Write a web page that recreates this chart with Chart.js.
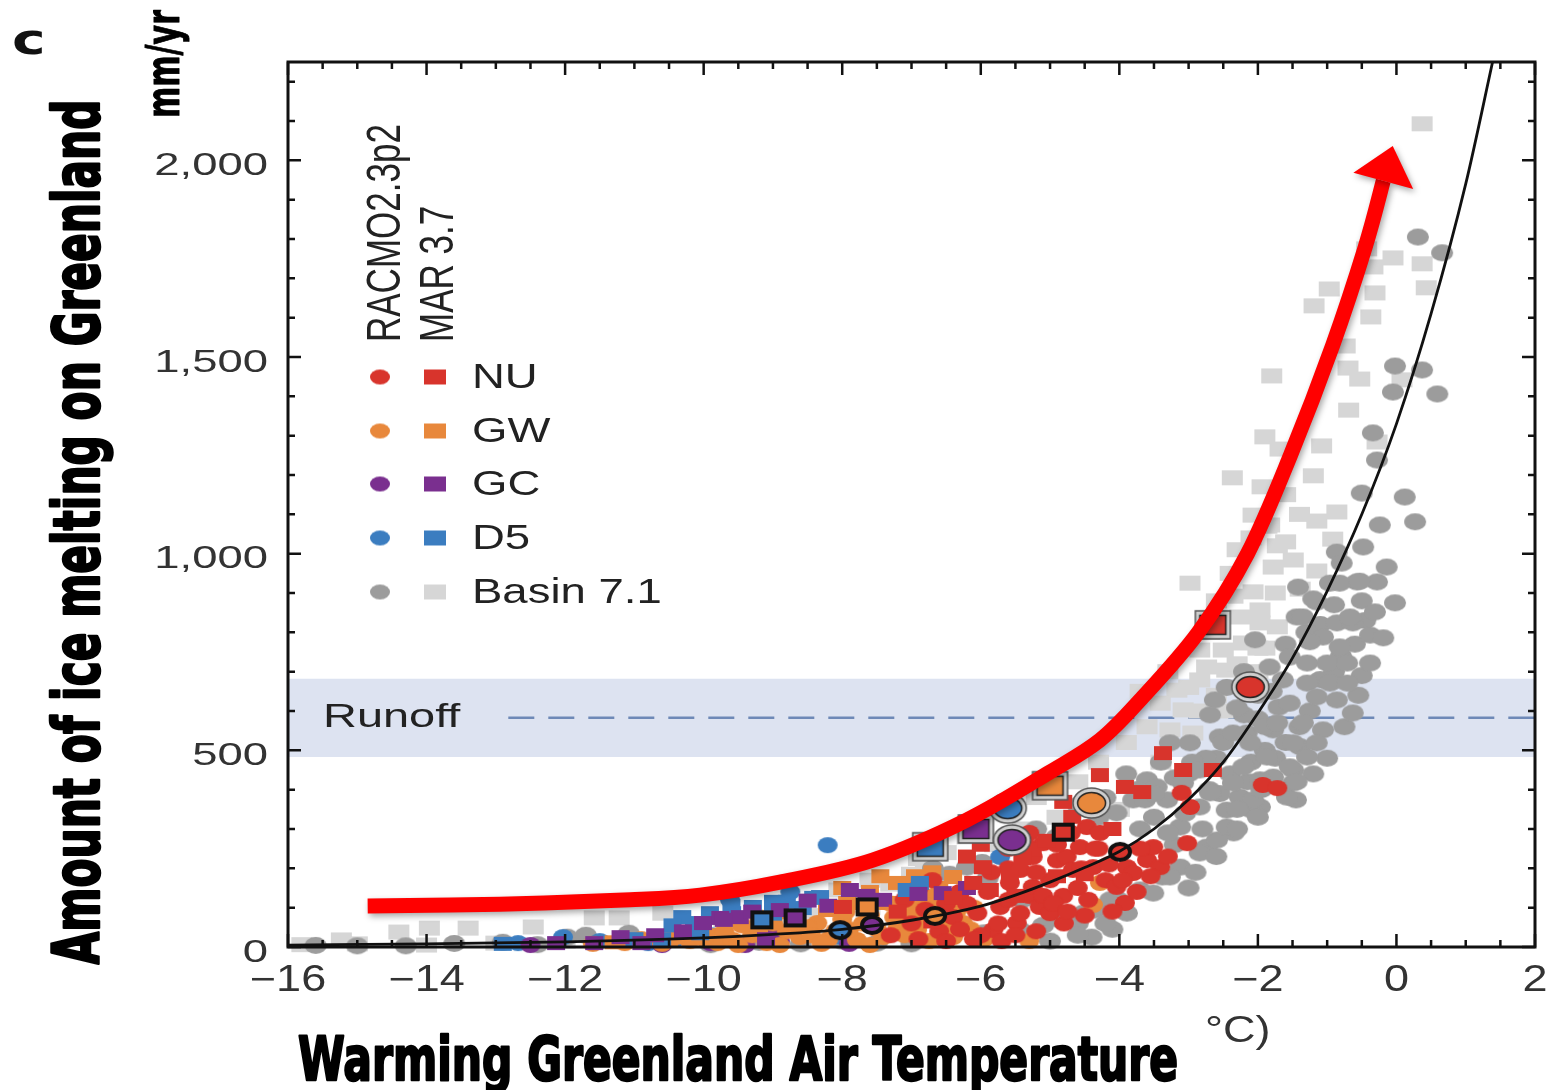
<!DOCTYPE html>
<html>
<head>
<meta charset="utf-8">
<script src="https://cdn.jsdelivr.net/npm/chart.js@4.4.0/dist/chart.umd.min.js"></script>
<style>
  html, body { margin: 0; padding: 0; background: #fff; }
  #chart { display: block; }
</style>
</head>
<body>
<canvas id="chart" width="1551" height="1090"></canvas>
<script>
// axis ticks
const xTicks = [-16, -14, -12, -10, -8, -6, -4, -2, 0, 2];
const yTicks = [0, 500, 1000, 1500, 2000];

// legend rows
const regions = ["NU", "GW", "GC", "D5", "Basin 7.1"];
const regionColors = ["#d8342c", "#e8883c", "#7a2f8f", "#3b7dc0", "#9c9c9c"];
const marColors = ["#d8342c", "#e8883c", "#7a2f8f", "#3b7dc0", "#d6d6d6"];

// runoff band (mm/yr)
const runoffLow = 483;
const runoffHigh = 682;
const runoffMean = 583;

// fitted curve
const fitX = [-16, -14, -12, -10, -9, -8, -7, -6, -5.5, -5, -4.5, -4, -3.5, -3, -2.5, -2, -1.5, -1, -0.5, 0, 0.5, 1, 1.4];
const fitY = [5, 8, 13, 23, 32, 45, 68, 104, 132, 165, 202, 243, 300, 375, 470, 595, 735, 905, 1100, 1330, 1610, 1940, 2260];

// red arrow drawn over the chart
const arrowPath = [[-14.85, 104], [-12.94, 109], [-11.06, 120], [-10.05, 132], [-8.9, 165], [-7.56, 221],
  [-6.2, 323], [-5.0, 445], [-4.28, 526], [-3.7, 628], [-2.86, 800], [-2.15, 1000], [-1.53, 1250],
  [-0.92, 1530], [-0.45, 1780], [-0.19, 1948]];

// Basin 7.1, RACMO2.3p2 (circles)
const basinRacmo = [
  [-15.6,4],[-15.0,3],[-14.3,3],[-13.6,9],[-12.9,12],[-12.4,6],[-11.97,25],[-11.7,30],[-11.08,35],[-10.6,10],[-9.9,6],[-9.2,12],[-8.6,8],[-8.0,15],[-7.5,10],[-7.0,8],[-6.6,25],[-5.95,36],[-5.43,43],[-4.86,69],[-4.35,94],[-4.02,120],[-3.7,145],[-3.38,178],[-3.12,203],[-2.74,254],[-2.35,290],[-2.09,348],[-1.45,374],
  [-6.69,200],[-6.45,185],[-6.2,203],[-5.98,215],[-5.9,175],[-5.4,120],[-5.1,55],[-4.6,60],[-4.4,25],[-4.1,45],[-3.89,86],[-3.51,137],[-3.27,178],[-2.84,239],[-2.59,272],[-2.45,305],[-2.45,348],[-2.26,381],[-1.97,356],[-1.58,381],[-1.49,417],[-1.49,450],[-4.52,86],[-4.13,120],[-4.04,341],[-3.8,374],[-3.6,425],[-3.46,407],[-3.31,374],[-3.12,305],[-2.84,356],[-2.07,374],[-1.78,432],[-3.27,519],[-2.98,519],[-2.55,534],[-2.16,544],[-1.78,552],[-1.39,509],[-3.0,150],[-2.9,190],[-2.6,230],[-2.3,300],[-2.0,330],[-2.7,400],[-2.4,440],[-2.1,470],[-1.9,500],[-3.7,300],[-3.5,330],[-3.2,260],[-4.3,330],[-4.6,360],[-4.2,380],[-3.9,440],[-3.4,470],[-3.0,440],[-2.6,480],[-5.2,300],[-4.9,280],[-3.63,374],[-0.5,690],[-0.55,640],[-0.75,560],[-1.0,480],[-1.2,440],
  [-3.3,290],[-3.05,340],[-2.8,300],[-2.55,390],[-2.3,350],[-2.15,420],[-1.95,400],[-1.75,480],[-1.6,520],[-1.4,560],[-1.25,600],[-1.1,680],[-0.9,700],[-0.8,740],[-0.6,770],[-0.45,830],[-0.5,880],[-0.9,870],[-1.1,820],[-1.3,800],[-1.6,770],[-1.8,650],[-2.0,640],[-2.2,700],[-2.45,660],[-2.0,580],[-1.7,610],[-1.9,560],[-2.2,590],[-2.5,520],[-2.75,480],[-2.95,470],[-3.2,430],[-3.5,390],[-3.75,400],[-4.2,60],[-4.6,30],[-5.0,15],
  [-0.28,1238],[-0.5,1154],[0.12,1144],[-0.24,1073],[0.27,1081],[-0.86,1004],[-0.48,1017],[-0.14,966],[-0.79,976],[-0.57,928],[-0.28,928],[-1.42,915],[-0.96,925],[-0.02,875],[-0.31,852],[-1.15,877],[-1.44,839],[-0.86,824],[-0.63,824],[-0.38,793],[-0.19,786],[-1.06,788],[-0.82,763],[-2.04,781],[-1.25,776],[-1.83,712],[-1.54,737],[-1.29,722],[-1.0,722],[-0.71,722],[-0.38,722],[-1.64,679],[-1.29,671],[-0.96,671],[-0.71,671],[-2.62,628],[-2.3,608],[-2.69,590],[-1.54,620],[-1.15,636],[-0.86,628],[-0.63,595],[-1.72,570],[-1.35,570],[-1.06,552],[-1.49,519],[-1.15,519],[-2.11,519],[-2.36,544],[-1.87,483],[-1.54,458],[-1.29,483],[-2.21,458],[-1.44,420],[-1.97,425],[-2.36,417],[-2.84,450],[-3.08,417],[-2.69,392],
  [0.31,1805],[0.66,1765],[-0.02,1477],[0.37,1467],[-0.05,1411],[0.59,1406],[-0.34,1307],[-0.82,925],[-0.53,930],[-1.2,885],[-1.35,839],[-0.67,839]
];

// Basin 7.1, MAR 3.7 (squares)
const basinMar = [
  [0.37,2093],[-0.43,1775],[-0.05,1752],[0.37,1737],[-0.34,1729],[0.43,1676],[-0.97,1673],[-0.31,1663],[-1.19,1630],[-0.37,1602],[-0.74,1528],[-1.8,1452],[-0.70,1472],[-0.53,1444],[0.08,1442],[-0.69,1365],[-1.90,1297],[-1.08,1274],[-0.28,1284],[-1.68,1266],[-2.37,1193],[-1.94,1170],[-1.2,1198],[-2.07,1098],[-1.15,1083],[-0.86,1106],[-1.87,1070],[-1.72,1020],[-0.92,1037],[-1.78,966],[-1.49,984],[-1.15,956],[-2.07,903],[-1.39,910],[-2.36,892],[-2.26,839],[-1.97,857],[-2.98,925],[-1.83,1073],[-1.97,824],[-1.72,814],[-2.84,755],[-2.5,755],[-2.21,773],[-2.74,712],[-2.45,704],[-2.84,679],[-3.17,653],[-3.41,620],[-3.08,603],[-3.27,552],[-2.94,544],
  [-3.6,560],[-3.9,520],[-3.4,470],[-4.3,470],[-4.6,420],[-4.0,350],[-4.9,330],[-5.2,380],[-5.4,300],[-5.8,260],[-6.0,330],[-6.2,280],[-6.5,240],[-6.8,200],[-6.9,225],[-7.0,185],[-7.3,160],[-7.6,170],[-8.05,145],[-3.0,660],[-3.3,700],[-2.6,640],[-2.0,700],[-1.9,760],[-2.5,600],[-3.7,650],
  [-2.6,880],[-2.4,950],[-2.1,1040],[-1.6,1150],[-1.4,1100],[-2.7,800],[-2.3,720],[-2.0,760],[-2.6,820],[-2.15,640],[-2.85,600],[-1.75,900],[-1.6,1030],[-2.3,1010],
  [-15.23,18],[-14.4,38],[-13.96,48],[-13.4,48],[-12.46,51],[-11.58,74],[-11.22,74],[-10.59,86],[-9.71,64],[-15.8,6],[-15.0,8],[-14.0,5],[-13.0,10],[-12.0,15],[-11.0,20],[-10.0,30],[-9.0,50],[-8.5,80],[-7.6,100]
];

// NU
const nuRacmo = [
  [-7.3,30],[-7.0,60],[-6.8,95],[-6.6,40],[-6.4,76],[-6.2,110],[-6.05,86],[-5.9,140],[-5.82,43],[-5.72,102],[-5.6,200],[-5.58,163],[-5.48,61],[-5.43,86],[-5.43,196],[-5.3,130],[-5.25,229],[-5.25,153],[-5.15,102],[-5.1,264],[-5.0,170],[-5.0,86],[-4.9,220],[-4.81,130],[-4.76,229],[-4.67,196],[-4.6,150],[-4.57,254],[-4.47,305],[-4.38,203],[-4.3,250],[-4.28,290],[-4.2,170],[-4.04,153],[-3.92,112],[-3.89,203],[-3.8,188],[-3.6,221],[-3.51,254],[-3.41,203],[-3.1,392],[-2.98,356],[-3.02,264],[-1.93,412],[-1.72,404],[-6.9,20],[-6.5,15],[-6.0,30],[-5.7,15],[-5.2,40],[-4.8,60],[-4.5,80],[-5.6,250],[-5.3,290],
  [-7.1,120],[-6.9,150],[-6.7,170],[-6.5,110],[-6.3,140],[-6.3,45],[-6.1,20],[-5.85,190],[-5.75,60],[-5.6,120],[-5.5,30],[-5.35,260],[-5.2,190],[-5.1,130],[-4.95,110],[-4.9,260],[-4.75,90],[-4.7,290],[-4.55,200],[-4.45,120],[-4.35,250],[-4.15,210],[-4.1,90],[-3.95,170],[-3.75,140],[-3.7,250],[-3.55,180],[-3.3,230]
];
const nuMar = [
  [-3.37,493],[-3.08,450],[-2.65,450],[-4.28,437],[-3.92,407],[-3.67,394],[-4.81,369],[-4.68,331],[-5.25,247],[-5.97,203],[-5.58,178],[-5.87,145],[-6.11,163],[-7.99,102],[-5.4,225],[-5.05,270],[-4.5,185],[-6.4,125],[-6.7,65],[-7.2,90],[-6.2,230],[-4.1,300],[-4.9,180],[-5.5,130],[-6.0,260]
];

// GW
const gwRacmo = [
  [-9.8,10],[-9.58,18],[-9.3,30],[-9.09,10],[-8.8,40],[-8.61,25],[-8.36,61],[-8.2,20],[-8.0,70],[-7.79,18],[-7.6,80],[-7.41,25],[-7.2,50],[-7.0,90],[-6.92,43],[-6.75,15],[-6.6,60],[-6.4,25],[-6.26,61],[-6.1,100],[-5.95,20],[-7.9,45],[-8.5,50],[-9.0,60],[-10.2,15],[-10.6,8],[-11.14,10],[-7.3,110],[-6.8,130],[-4.28,163],[-4.38,107],[-5.3,15],[-8.9,5],[-7.6,5],
  [-10.4,25],[-10.0,20],[-9.7,40],[-9.45,55],[-9.2,75],[-8.95,85],[-8.7,60],[-8.45,30],[-8.1,40],[-7.95,90],[-7.7,60],[-7.5,45],[-7.25,75],[-7.1,30],[-6.85,65],[-6.7,105],[-6.5,50],[-6.35,90],[-6.15,45],[-8.3,8],[-9.5,5],[-10.9,20],[-11.6,8]
];
const gwMar = [
  [-7.93,112],[-7.21,163],[-7.35,112],[-6.88,112],[-6.4,178],[-6.3,127],[-8.22,94],[-7.17,61],[-8.7,80],[-9.2,40],[-9.8,30],[-7.6,140],[-6.6,150],[-10.5,20],[-11.3,12],[-8.0,150],[-7.45,180],[-6.95,180],[-6.7,190],[-8.9,110]
];

// GC
const gcRacmo = [[-9.9,10],[-9.4,5],[-8.9,15],[-12.5,5],[-10.6,5],[-7.9,8],[-9.0,30]];
const gcMar = [
  [-10.01,61],[-9.76,74],[-9.48,76],[-8.9,94],[-7.89,145],[-7.41,120],[-6.55,137],[-9.71,69],[-12.13,10],[-11.58,10],[-10.9,10],[-10.3,40],[-8.5,118],[-6.2,150],[-11.2,25],[-9.1,20],[-9.3,90],[-8.2,105],[-7.65,130],[-6.9,135],[-10.7,30]
];

// D5
const d5Racmo = [[-8.21,259],[-8.75,140],[-9.62,120],[-12.03,25],[-12.68,10],[-10.8,10],[-9.9,30],[-10.4,20],[-9.2,60],[-5.72,229],[-8.0,25],[-11.5,15]];
const d5Mar = [
  [-9.91,86],[-9.29,102],[-8.57,99],[-8.32,127],[-7.07,145],[-6.88,163],[-10.14,61],[-10.31,76],[-9.59,86],[-8.42,125],[-10.6,20],[-10.05,35],[-11.0,20],[-12.9,8],[-9.0,115],[-9.0,85],[-8.8,115],[-9.6,105],[-10.45,55]
];

// framed markers, in the order NU, GW, GC, D5
const ringCircles = [[-2.11,661],[-4.4,366],[-5.55,272],[-5.61,353]];
const ringSquares = [[-2.65,819],[-5.0,410],[-6.07,300],[-6.73,255]];
const meanCircles = [[-3.99,242],[-6.66,79],[-7.57,56],[-8.03,43]];
const meanSquares = [[-4.81,292],[-7.64,102],[-8.68,74],[-9.16,69]];

// marker images (the figure is stretched sideways, so marks are wider than tall)
function marker(shape, w, h, fill, stroke, lw, ring) {
  const pad = (lw || 0) + (ring ? 6 : 0) + 2;
  const c = document.createElement("canvas");
  c.width = w + pad * 2;
  c.height = h + pad * 2;
  const g = c.getContext("2d");
  const cx = c.width / 2, cy = c.height / 2;
  const path = (ww, hh) => {
    g.beginPath();
    if (shape === "circle") g.ellipse(cx, cy, ww / 2, hh / 2, 0, 0, Math.PI * 2);
    else g.rect(cx - ww / 2, cy - hh / 2, ww, hh);
  };
  if (ring) {
    path(w + 9, h + 9);
    g.fillStyle = "#cfcfcf";
    g.fill();
    g.lineWidth = 1.5;
    g.strokeStyle = "#555";
    g.stroke();
  }
  path(w, h);
  g.fillStyle = fill;
  g.fill();
  if (lw) {
    g.lineWidth = lw;
    g.strokeStyle = stroke;
    g.stroke();
  }
  return c;
}

const pts = arr => arr.map(p => ({ x: p[0], y: p[1] }));

function scatterSet(label, data, style, order) {
  return { label, data: pts(data), pointStyle: style, pointRadius: 10, showLine: false, order, clip: false };
}

const C = regionColors;
const datasets = [
  { label: "fit", data: fitX.map((x, i) => ({ x, y: fitY[i] })), showLine: true, borderColor: "#111",
    borderWidth: 2.8, pointRadius: 0, cubicInterpolationMode: "monotone", order: 1 },
  scatterSet("mean circles", meanCircles, meanCircles.map((p, i) => marker("circle", 20, 16, C[i], "#111", 4)), 2),
  scatterSet("mean squares", meanSquares, meanSquares.map((p, i) => marker("rect", 19, 15, C[i], "#111", 4)), 2),
  scatterSet("ring circles", ringCircles, ringCircles.map((p, i) => marker("circle", 28, 21, C[i], "#222", 1.5, true)), 3),
  scatterSet("ring squares", ringSquares, ringSquares.map((p, i) => marker("rect", 26, 19, C[i], "#222", 1.5, true)), 3),
  scatterSet("NU MAR", nuMar, marker("rect", 18, 14, C[0]), 4),
  scatterSet("GC MAR", gcMar, marker("rect", 18, 14, C[2]), 5),
  scatterSet("D5 MAR", d5Mar, marker("rect", 18, 14, C[3]), 5),
  scatterSet("NU RACMO", nuRacmo, marker("circle", 20, 16, C[0]), 5),
  scatterSet("GW RACMO", gwRacmo, marker("circle", 20, 16, C[1]), 6),
  scatterSet("GW MAR", gwMar, marker("rect", 18, 14, C[1]), 6),
  scatterSet("GC RACMO", gcRacmo, marker("circle", 20, 16, C[2]), 6),
  scatterSet("D5 RACMO", d5Racmo, marker("circle", 20, 16, C[3]), 6),
  scatterSet("Basin RACMO", basinRacmo, marker("circle", 22, 17, C[4]), 8),
  scatterSet("Basin MAR", basinMar, marker("rect", 21, 15, marColors[4]), 9)
];

function hText(ctx, str, x, y, font, sx, align, color) {
  ctx.save();
  ctx.translate(x, y);
  ctx.scale(sx, 1);
  ctx.font = font;
  ctx.fillStyle = color;
  ctx.textAlign = align;
  ctx.textBaseline = "middle";
  ctx.fillText(str, 0, 0);
  ctx.restore();
}

// text squeezed or stretched to a given length, centred on its baseline
function fitText(ctx, str, x, y, font, len, rotated, color, heavy) {
  ctx.save();
  ctx.translate(x, y);
  if (rotated) ctx.rotate(-Math.PI / 2);
  ctx.font = font;
  const w = ctx.measureText(str).width;
  ctx.scale(len / w, 1);
  ctx.textAlign = "center";
  ctx.textBaseline = "alphabetic";
  ctx.fillStyle = color;
  ctx.fillText(str, 0, 0);
  if (heavy) {
    ctx.lineWidth = heavy;
    ctx.lineJoin = "round";
    ctx.strokeStyle = color;
    ctx.strokeText(str, 0, 0);
  }
  ctx.restore();
}

const overlay = {
  id: "overlay",
  beforeDatasetsDraw(chart) {
    const { ctx, chartArea: a, scales: { x, y } } = chart;
    ctx.save();
    ctx.fillStyle = "#dde3f1";
    const top = y.getPixelForValue(runoffHigh), bot = y.getPixelForValue(runoffLow);
    ctx.fillRect(a.left, top, a.right - a.left, bot - top);
    ctx.strokeStyle = "#6e89b7";
    ctx.lineWidth = 2.5;
    ctx.setLineDash([26, 14]);
    const ym = y.getPixelForValue(runoffMean);
    ctx.beginPath();
    ctx.moveTo(x.getPixelForValue(-12.82), ym);
    ctx.lineTo(a.right, ym);
    ctx.stroke();
    ctx.restore();
    hText(ctx, "Runoff", 323, ym, '34px "Liberation Sans"', 1.38, "left", "#222");
  },
  afterDatasetsDraw(chart) {
    const { ctx, chartArea: a, scales: { x, y } } = chart;
    ctx.save();
    // frame and inward ticks
    ctx.strokeStyle = "#111";
    ctx.lineWidth = 3;
    ctx.strokeRect(a.left, a.top, a.right - a.left, a.bottom - a.top);
    ctx.lineWidth = 2.5;
    ctx.beginPath();
    for (let v = -16; v <= 2.001; v += 0.5) {
      const px = x.getPixelForValue(v);
      const len = Math.abs(v % 2) < 0.01 ? 13 : 7;
      ctx.moveTo(px, a.bottom); ctx.lineTo(px, a.bottom - len);
      ctx.moveTo(px, a.top); ctx.lineTo(px, a.top + len);
    }
    for (let v = 0; v <= 2200; v += 100) {
      const py = y.getPixelForValue(v);
      const len = v % 500 === 0 ? 13 : 7;
      ctx.moveTo(a.left, py); ctx.lineTo(a.left + len, py);
      ctx.moveTo(a.right, py); ctx.lineTo(a.right - len, py);
    }
    ctx.stroke();
    ctx.restore();

    yTicks.forEach(v => hText(ctx, v.toLocaleString("en-US"), 268, y.getPixelForValue(v) + 6,
      '32px "Liberation Sans"', 1.42, "right", "#333"));
    xTicks.forEach(v => hText(ctx, v < 0 ? "\u2212" + (-v) : String(v), x.getPixelForValue(v), 981,
      '36px "Liberation Sans"', 1.25, "center", "#333"));

    // red arrow
    const p = arrowPath.map(q => [x.getPixelForValue(q[0]), y.getPixelForValue(q[1])]);
    ctx.save();
    ctx.shadowColor = "rgba(0,0,0,0.35)";
    ctx.shadowBlur = 6;
    ctx.shadowOffsetX = 2;
    ctx.shadowOffsetY = 3;
    ctx.strokeStyle = "#ff0000";
    ctx.fillStyle = "#ff0000";
    ctx.lineWidth = 15;
    ctx.lineCap = "butt";
    ctx.lineJoin = "round";
    ctx.beginPath();
    ctx.moveTo(p[0][0], p[0][1]);
    for (let i = 0; i < p.length - 1; i++) {
      const p0 = p[Math.max(i - 1, 0)], p1 = p[i], p2 = p[i + 1], p3 = p[Math.min(i + 2, p.length - 1)];
      ctx.bezierCurveTo(p1[0] + (p2[0] - p0[0]) / 6, p1[1] + (p2[1] - p0[1]) / 6,
        p2[0] - (p3[0] - p1[0]) / 6, p2[1] - (p3[1] - p1[1]) / 6, p2[0], p2[1]);
    }
    ctx.stroke();
    const e = p[p.length - 1], s = p[p.length - 2];
    let dx = e[0] - s[0], dy = e[1] - s[1];
    const dl = Math.hypot(dx, dy);
    dx /= dl; dy /= dl;
    ctx.beginPath();
    ctx.moveTo(e[0] + dx * 36, e[1] + dy * 36);
    ctx.lineTo(e[0] - dy * 31, e[1] + dx * 31);
    ctx.lineTo(e[0] + dy * 31, e[1] - dx * 31);
    ctx.closePath();
    ctx.fill();
    ctx.restore();
  },
  afterDraw(chart) {
    const ctx = chart.ctx;
    // legend
    const rowY = [377, 431, 484, 538, 592];
    rowY.forEach((ry, i) => {
      const c1 = marker("circle", 20, 15, regionColors[i]);
      const c2 = marker("rect", 22, 15, marColors[i]);
      ctx.drawImage(c1, 380 - c1.width / 2, ry - c1.height / 2);
      ctx.drawImage(c2, 435 - c2.width / 2, ry - c2.height / 2);
      hText(ctx, regions[i], 472, ry + 1, '35px "Liberation Sans"', 1.3, "left", "#222");
    });
    [["RACMO2.3p2", 400], ["MAR 3.7", 453]].forEach(([t, bx]) => {
      ctx.save();
      ctx.translate(bx, 342);
      ctx.rotate(-Math.PI / 2);
      ctx.scale(1, 1.35);
      ctx.font = '35px "Liberation Sans"';
      ctx.fillStyle = "#222";
      ctx.textAlign = "left";
      ctx.textBaseline = "alphabetic";
      ctx.fillText(t, 0, 0);
      ctx.restore();
    });

    // panel letter, units and titles
    hText(ctx, "c", 12, 43, 'bold 42px "DejaVu Sans"', 1.35, "left", "#111");
    fitText(ctx, "mm/yr", 179, 64, 'bold 46px "DejaVu Sans"', 108, true, "#000", 1);
    fitText(ctx, "Amount of ice melting on Greenland", 99, 532, 'bold 64px "DejaVu Sans"', 865, true, "#000", 2.5);
    fitText(ctx, "Warming Greenland Air Temperature", 738, 1080, 'bold 60px "DejaVu Sans"', 880, false, "#000", 2.5);
    hText(ctx, "\u00b0C)", 1205, 1032, '36px "Liberation Sans"', 1.25, "left", "#333");
  }
};

new Chart(document.getElementById("chart"), {
  type: "scatter",
  data: { datasets },
  options: {
    responsive: false,
    animation: false,
    events: [],
    layout: { padding: { left: 0, right: 16, top: 62, bottom: 0 } },
    plugins: { legend: { display: false }, tooltip: { enabled: false } },
    scales: {
      x: {
        type: "linear", min: -16, max: 2,
        grid: { display: false, drawTicks: false }, border: { display: false },
        ticks: { display: false },
        afterFit: s => { s.height = 143; }
      },
      y: {
        type: "linear", min: 0, max: 2250,
        grid: { display: false, drawTicks: false }, border: { display: false },
        ticks: { display: false },
        afterFit: s => { s.width = 288; }
      }
    }
  },
  plugins: [overlay]
});
</script>
</body>
</html>
